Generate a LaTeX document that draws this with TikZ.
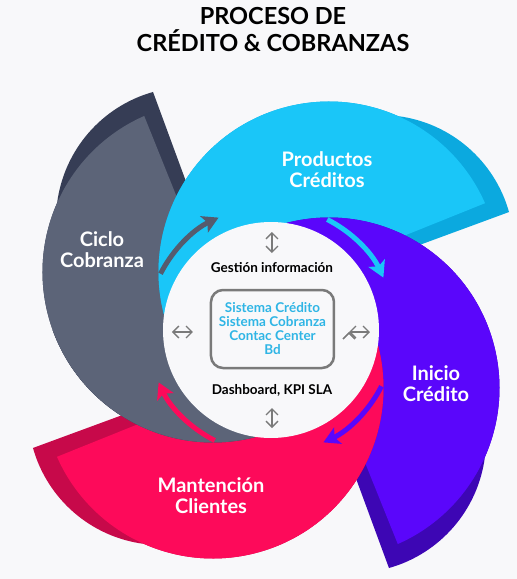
\documentclass[tikz,border=0pt]{standalone}
\usepackage{fontspec}
\setmainfont{Lato}
\usepackage{tikz}
\usetikzlibrary{arrows.meta}
\definecolor{bgcol}{HTML}{F8F8FA}
\definecolor{bluelight}{HTML}{1AC6F8}
\definecolor{bluedark}{HTML}{0BA9DF}
\definecolor{purplelight}{HTML}{5A06FB}
\definecolor{purpledark}{HTML}{3D06B4}
\definecolor{pinklight}{HTML}{FD0A5A}
\definecolor{pinkdark}{HTML}{C7094A}
\definecolor{graylight}{HTML}{5C6478}
\definecolor{graydark}{HTML}{363D55}
\definecolor{grayarrow}{HTML}{555B6E}
\definecolor{boxtext}{HTML}{2FB5E5}
\definecolor{linkgray}{HTML}{7A7A7A}
\tikzstyle{phase}=[text=white, font=\fontsize{20}{21}\selectfont\bfseries, align=center]
\tikzstyle{info}=[text=black, font=\fontsize{13.5}{15}\selectfont\bfseries]
\tikzstyle{sysbox}=[draw=linkgray, line width=2.5pt, rounded corners=12pt,
minimum width=123pt, minimum height=78pt, inner sep=0pt, text=boxtext,
align=center, font=\fontsize{13.5}{14}\selectfont\bfseries]
\tikzstyle{flow}=[line width=5pt, -{Stealth[length=16pt, width=18pt, inset=4pt]}]
\tikzstyle{link}=[draw=linkgray, line width=1.4pt,
{Straight Barb[length=6pt, width=12pt]}-{Straight Barb[length=6pt, width=12pt]}]
% one petal of the swirl (tip at 30 degrees), turned by #1
\newcommand{\swirlpetal}[3]{%
  \begin{scope}[rotate=#1]
    \fill[#3] (0,0) -- (-107.1,15.6)
      arc[start angle=194.4, end angle=66.1, radius=170.5pt]
      arc[start angle=82.6, end angle=15.7, radius=133pt] -- (133,79.3) -- cycle;
    \fill[#2] (0,0) -- (-107.1,15.6)
      arc[start angle=194.4, end angle=23.8, radius=170.5pt] -- (130,93) -- cycle;
  \end{scope}}

\begin{document}
\begin{tikzpicture}[x=1pt,y=1pt]
    \fill[bgcol] (-271,-249) rectangle (246,330);
    \useasboundingbox (-271,-249) rectangle (246,330);
    % The four petals, each one lying over the one before it:
    \swirlpetal{90}{graylight}{graydark}
    \swirlpetal{0}{bluelight}{bluedark}
    \swirlpetal{-90}{purplelight}{purpledark}
    \swirlpetal{180}{pinklight}{pinkdark}
    \begin{scope}
      \clip (-271,-249) rectangle (0,0);
      \swirlpetal{90}{graylight}{graydark}
    \end{scope}
    % Centre disc
    \fill[bgcol] (0,0) circle[radius=108pt];

    % Arrows from one phase to the next:
    \coordinate (f_blue) at (63:124);
    \coordinate (f_purple) at (-27:124);
    \coordinate (f_pink) at (243:124);
    \coordinate (f_gray) at (153:124);
    \draw[flow, bluelight] (f_blue) arc[start angle=63, end angle=25, radius=124pt];
    \draw[flow, purplelight] (f_purple) arc[start angle=-27, end angle=-65, radius=124pt];
    \draw[flow, pinklight] (f_pink) arc[start angle=243, end angle=205, radius=124pt];
    \draw[flow, grayarrow] (f_gray) arc[start angle=153, end angle=115, radius=124pt];

    % Title and phase names
    \node (title) at (2,300.5) [align=center, font=\fontsize{23.5}{27}\selectfont\bfseries]
      {PROCESO DE\\CRÉDITO \& COBRANZAS};
    \node (prod) at (56,160) [phase] {Productos\\Créditos};
    \node (ciclo) at (-169,80) [phase] {Ciclo\\Cobranza};
    \node (inicio) at (165,-54) [phase] {Inicio\\Crédito};
    \node (mant) at (-60,-166) [phase] {Mantención\\Clientes};

    % Centre: systems and information flow
    \node (sistemas) at (1.5,1) [sysbox]
      {Sistema Crédito\\Sistema Cobranza\\Contac Center\\Bd};
    \node (gestion) at (1,62) [info] {Gestión información};
    \node (dashboard) at (1,-60) [info] {Dashboard, KPI SLA};

    \coordinate (up_a) at (1,77);   \coordinate (up_b) at (1,98);
    \coordinate (dn_a) at (1,-78);  \coordinate (dn_b) at (1,-98);
    \coordinate (lt_a) at (-78,-2); \coordinate (lt_b) at (-99,-2);
    \coordinate (rt_a) at (78,-2);  \coordinate (rt_b) at (99,-2);
    \path[link]
    (up_a) edge (up_b)
    (dn_b) edge (dn_a)
    (lt_b) edge (lt_a)
    (rt_a) edge (rt_b);
\end{tikzpicture}
\end{document}
